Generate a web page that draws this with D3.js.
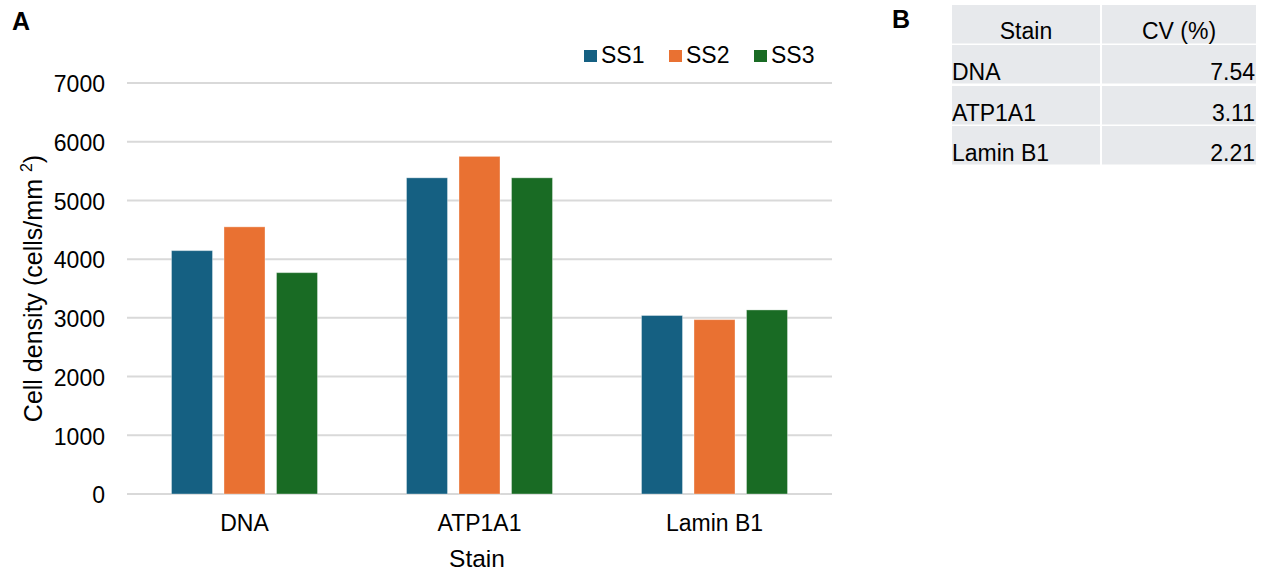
<!DOCTYPE html>
<html><head><meta charset="utf-8">
<script src="https://cdn.jsdelivr.net/npm/d3@7"></script>
<style>body{margin:0;background:#fff}svg{display:block}svg text{font-family:"Liberation Sans",Arial,sans-serif}</style>
</head><body><svg id="c" width="1268" height="572"></svg>
<script>
const categories = ["DNA", "ATP1A1", "Lamin B1"];
const seriesNames = ["SS1", "SS2", "SS3"];
const ss1 = [4145, 5385, 3040];
const ss2 = [4550, 5750, 2970];
const ss3 = [3770, 5385, 3135];
const yTicks = [0, 1000, 2000, 3000, 4000, 5000, 6000, 7000];
const colors = ["#156082", "#E97132", "#196B24"];
const tableHeader = ["Stain", "CV (%)"];
const tableStains = ["DNA", "ATP1A1", "Lamin B1"];
const tableCV = ["7.54", "3.11", "2.21"];

(function () {
const svg = d3.select("#c");
const fs = 23;
const pL = 127, pR = 832, pT = 83, pB = 494;
const x0 = d3.scaleBand().domain(categories).range([pL, pR]).padding(0);
const x1 = d3.scaleBand().domain(seriesNames).range([0, 146]).paddingInner(0.219).paddingOuter(0);
const y = d3.scaleLinear().domain([0, 7000]).range([pB, pT]);

// gridlines
svg.append("g").selectAll("line").data(yTicks).join("line")
  .attr("x1", pL).attr("x2", pR)
  .attr("y1", d => y(d)).attr("y2", d => y(d))
  .attr("stroke", "#D9D9D9").attr("stroke-width", 2);

// y axis labels
const yAxis = d3.axisLeft(y).tickValues(yTicks).tickSize(0).tickPadding(0).tickFormat(d3.format("d"));
const gy = svg.append("g").attr("transform", `translate(105,0)`).call(yAxis);
gy.select(".domain").remove();
gy.attr("font-family", null).attr("font-size", null);
gy.selectAll("text").attr("font-size", fs).attr("fill", "#000").attr("dy", "0.38em");

// bars
const data = [ss1, ss2, ss3];
const rows = categories.map((c, i) => ({cat: c, vals: seriesNames.map((s, j) => ({s, v: data[j][i], j}))}));
const off = (x0.bandwidth() - 146) / 2;
const g = svg.append("g").selectAll("g").data(rows).join("g")
  .attr("transform", d => `translate(${x0(d.cat) + off},0)`);
g.selectAll("rect").data(d => d.vals).join("rect")
  .attr("x", d => x1(d.s)).attr("width", x1.bandwidth())
  .attr("y", d => y(d.v)).attr("height", d => y(0) - y(d.v))
  .attr("fill", d => colors[d.j])
  .attr("stroke", "#fff").attr("stroke-opacity", 0.35).attr("stroke-width", 1);

// x axis labels
const xAxis = d3.axisBottom(x0).tickSize(0).tickPadding(0);
const gx = svg.append("g").attr("transform", `translate(0,531)`).call(xAxis);
gx.select(".domain").remove();
gx.attr("font-family", null).attr("font-size", null);
gx.selectAll("text").attr("font-size", fs).attr("fill", "#000").attr("dy", 0);

// axis titles
svg.append("text").attr("x", 477).attr("y", 567).attr("text-anchor", "middle")
  .attr("font-size", 24.5).text("Stain");
const yt = svg.append("text").attr("transform", `translate(42,${(pT + pB) / 2}) rotate(-90)`)
  .attr("text-anchor", "middle").attr("font-size", 25);
yt.append("tspan").text("Cell density (cells/mm ");
yt.append("tspan").attr("font-size", 16).attr("dy", -10).text("2");
yt.append("tspan").attr("dy", 10).text(")");

// legend
const lx = [584, 669, 754];
const lg = svg.append("g").selectAll("g").data(seriesNames).join("g")
  .attr("transform", (d, i) => `translate(${lx[i]},0)`);
lg.append("rect").attr("x", 0).attr("y", 50).attr("width", 13).attr("height", 12).attr("fill", (d, i) => colors[i]);
lg.append("text").attr("x", 17).attr("y", 63).attr("font-size", fs).text(d => d);

// panel letters
svg.append("text").attr("x", 12).attr("y", 30).attr("font-size", 25).attr("font-weight", "bold").text("A");
svg.append("text").attr("x", 892).attr("y", 28).attr("font-size", 25).attr("font-weight", "bold").text("B");

// table
const colX = [952, 1102], colW = [148, 154];
const rowY = [5, 45, 86, 126], rowH = 38.5;
const tb = svg.append("g");
const cells = [];
rowY.forEach((ry, r) => colX.forEach((cx, c) => cells.push({r, c, x: cx, y: ry})));
tb.selectAll("rect").data(cells).join("rect")
  .attr("x", d => d.x).attr("y", d => d.y).attr("width", d => colW[d.c]).attr("height", rowH)
  .attr("fill", "#E7E9EC");
tb.selectAll("text.h").data(tableHeader).join("text").attr("class", "h")
  .attr("x", (d, i) => colX[i] + colW[i] / 2).attr("y", 39).attr("text-anchor", "middle")
  .attr("font-size", fs).text(d => d);
tb.selectAll("text.s").data(tableStains).join("text").attr("class", "s")
  .attr("x", 952).attr("y", (d, i) => rowY[i + 1] + rowH - 4)
  .attr("font-size", fs).text(d => d);
tb.selectAll("text.v").data(tableCV).join("text").attr("class", "v")
  .attr("x", 1255).attr("y", (d, i) => rowY[i + 1] + rowH - 4).attr("text-anchor", "end")
  .attr("font-size", fs).text(d => d);
})();
</script></body></html>
